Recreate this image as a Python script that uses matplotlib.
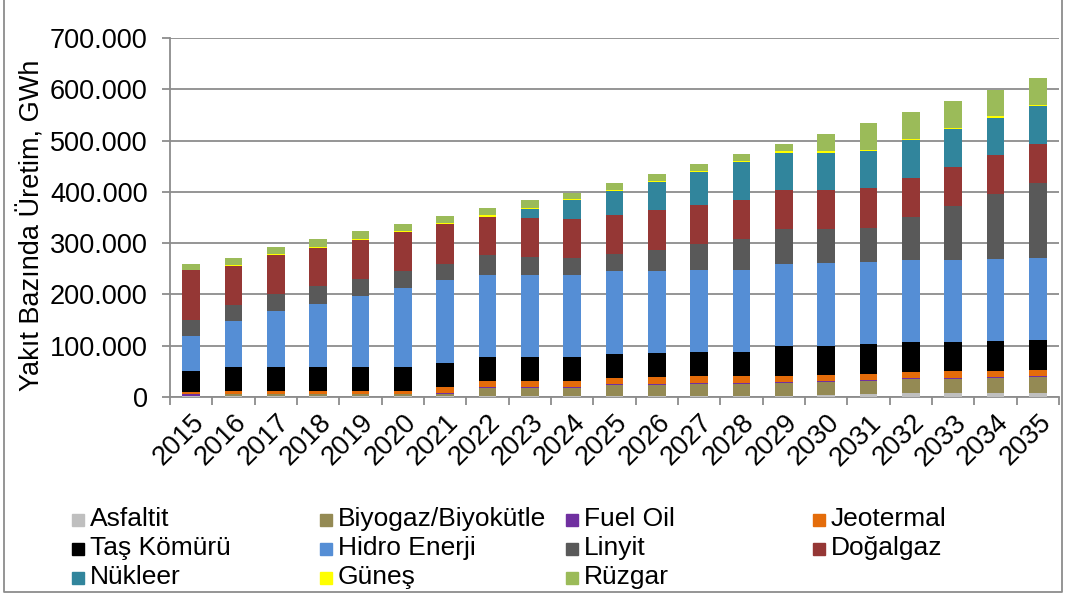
import numpy as np
import matplotlib.pyplot as plt
from matplotlib.ticker import FuncFormatter, MultipleLocator
from matplotlib.patches import Rectangle
from matplotlib.lines import Line2D

plt.rcParams['font.family'] = ['Liberation Sans', 'DejaVu Sans']

years = [str(y) for y in range(2015, 2036)]

# yakıt bazında üretim (bin GWh)
asfaltit = [1.0, 2.0, 2.0, 2.0, 2.0, 2.0, 2.0, 1.8, 1.8, 1.8, 2.5,
            2.5, 2.5, 2.5, 2.5, 3.0, 5.5, 7.0, 7.0, 7.5, 7.5]
biyogaz = [1.7, 3.0, 3.0, 3.0, 3.0, 3.0, 4.5, 15.5, 15.5, 15.5, 20.0,
           21.5, 22.6, 23.5, 24.5, 25.5, 26.3, 28.0, 28.7, 29.3, 30.7]
fuel_oil = [3.0, 0.8, 0.8, 0.8, 0.8, 0.8, 1.0, 2.0, 2.0, 2.0, 2.0,
            1.5, 2.0, 1.5, 2.0, 1.9, 1.6, 1.8, 1.9, 2.0, 2.0]
jeotermal = [3.4, 6.4, 6.4, 6.4, 6.4, 6.4, 11.8, 11.7, 11.7, 11.7, 13.0,
             13.3, 13.1, 13.5, 11.8, 11.7, 12.0, 11.7, 12.3, 11.7, 11.7]
tas_komuru = [40.8, 45.5, 45.5, 45.5, 45.5, 45.5, 47.6, 46.8, 46.8, 46.8, 46.8,
              46.8, 46.7, 46.5, 58.4, 57.9, 57.1, 57.9, 57.1, 57.9, 58.4]
hidro = [68.2, 89.7, 109.7, 124.2, 139.0, 154.6, 160.4, 160.6, 160.6, 160.6, 160.5,
         159.8, 159.9, 160.6, 160.6, 161.0, 160.5, 159.9, 160.6, 159.8, 160.5]
linyit = [31.2, 32.5, 34.0, 33.7, 33.9, 33.1, 32.5, 37.6, 34.3, 33.1, 34.5,
          41.7, 51.2, 60.5, 66.9, 67.1, 67.0, 85.2, 105.3, 126.7, 146.9]
dogalgaz = [98.8, 76.1, 74.6, 74.7, 75.2, 76.0, 76.7, 75.5, 76.8, 76.1, 76.1,
            77.2, 75.5, 75.2, 76.0, 75.2, 77.2, 76.0, 76.0, 76.1, 76.1]
nukleer = [0, 0, 0, 0, 0, 0, 0, 0, 17.5, 36.2, 46.0,
           54.6, 64.3, 73.5, 72.7, 72.9, 72.1, 72.7, 72.7, 73.4, 72.7]
gunes = [0.2, 2.0, 3.3, 2.7, 2.5, 2.7, 2.5, 2.5, 2.3, 2.7, 2.6,
         2.6, 2.5, 2.5, 3.4, 2.6, 2.7, 2.5, 2.6, 2.6, 1.9]
ruzgar = [11.5, 13.5, 12.9, 14.2, 14.5, 13.7, 13.6, 14.2, 13.9, 11.7, 13.7,
          13.0, 13.1, 13.1, 13.6, 34.5, 52.0, 52.7, 52.0, 52.0, 54.0]

series = [
    ("Asfaltit", asfaltit, "#BFBFBF"),
    ("Biyogaz/Biyokütle", biyogaz, "#948A54"),
    ("Fuel Oil", fuel_oil, "#7030A0"),
    ("Jeotermal", jeotermal, "#E46C0A"),
    ("Taş Kömürü", tas_komuru, "#000000"),
    ("Hidro Enerji", hidro, "#558ED5"),
    ("Linyit", linyit, "#595959"),
    ("Doğalgaz", dogalgaz, "#953735"),
    ("Nükleer", nukleer, "#31859C"),
    ("Güneş", gunes, "#FFFF00"),
    ("Rüzgar", ruzgar, "#9BBB59"),
]

grid_color = "#8C8C8C"
W, H = 1067, 597

fig = plt.figure(figsize=(W / 100, H / 100), dpi=100)
ax = fig.add_axes([170 / W, 1 - 397 / H, (1059 - 170) / W, (397 - 38) / H])

x = np.arange(len(years))
bottom = np.zeros(len(years))
for name, vals, color in series:
    v = np.array(vals) * 1000
    ax.bar(x, v, width=0.41, bottom=bottom, color=color, label=name, zorder=3)
    bottom += v

ax.set_xlim(-0.5, len(years) - 0.5)
ax.set_ylim(0, 700000)
ax.yaxis.set_major_locator(MultipleLocator(100000))
ax.yaxis.set_major_formatter(FuncFormatter(lambda v, p: f"{v:,.0f}".replace(",", ".")))
ax.grid(axis="y", color=grid_color, linewidth=1.3, zorder=0)
ax.set_axisbelow(True)
for s in ["top", "right"]:
    ax.spines[s].set_visible(False)
for s in ["left", "bottom"]:
    ax.spines[s].set_color(grid_color)
    ax.spines[s].set_linewidth(1.3)

# year labels at bar centres, tick marks between categories
ax.set_xticks(x)
ax.set_xticklabels(years, rotation=45, ha="right", va="top", rotation_mode="anchor")
ax.set_xticks(np.arange(-0.5, len(years)), minor=True)
ax.tick_params(axis="x", which="major", length=0, pad=9, labelsize=19.5)
ax.tick_params(axis="x", which="minor", length=6, color=grid_color, width=1.3)
ax.tick_params(axis="y", length=6, color=grid_color, width=1.3, pad=10, labelsize=19.5)

fig.text(32 / W, 1 - 225 / H, "Yakıt Bazında Üretim, GWh", rotation=90,
         ha="center", va="center", fontsize=19.5)

# legend laid out in rows of four
col_x = [72, 320, 566, 813]
row_y = [519, 548, 577]
for i, (name, vals, color) in enumerate(series):
    cx = col_x[i % 4]
    cy = row_y[i // 4]
    fig.add_artist(Rectangle((cx / W, 1 - (cy + 7) / H), 12 / W, 12 / H,
                             transform=fig.transFigure, color=color))
    fig.text((cx + 18) / W, 1 - cy / H, name, ha="left", va="center", fontsize=19)

# outer chart frame
fig.add_artist(Line2D([4 / W, 4 / W, 1062 / W, 1062 / W], [1, 1 - 592 / H, 1 - 592 / H, 1],
                      transform=fig.transFigure, color=grid_color, linewidth=1.3))

fig.savefig("out.png", dpi=100)
